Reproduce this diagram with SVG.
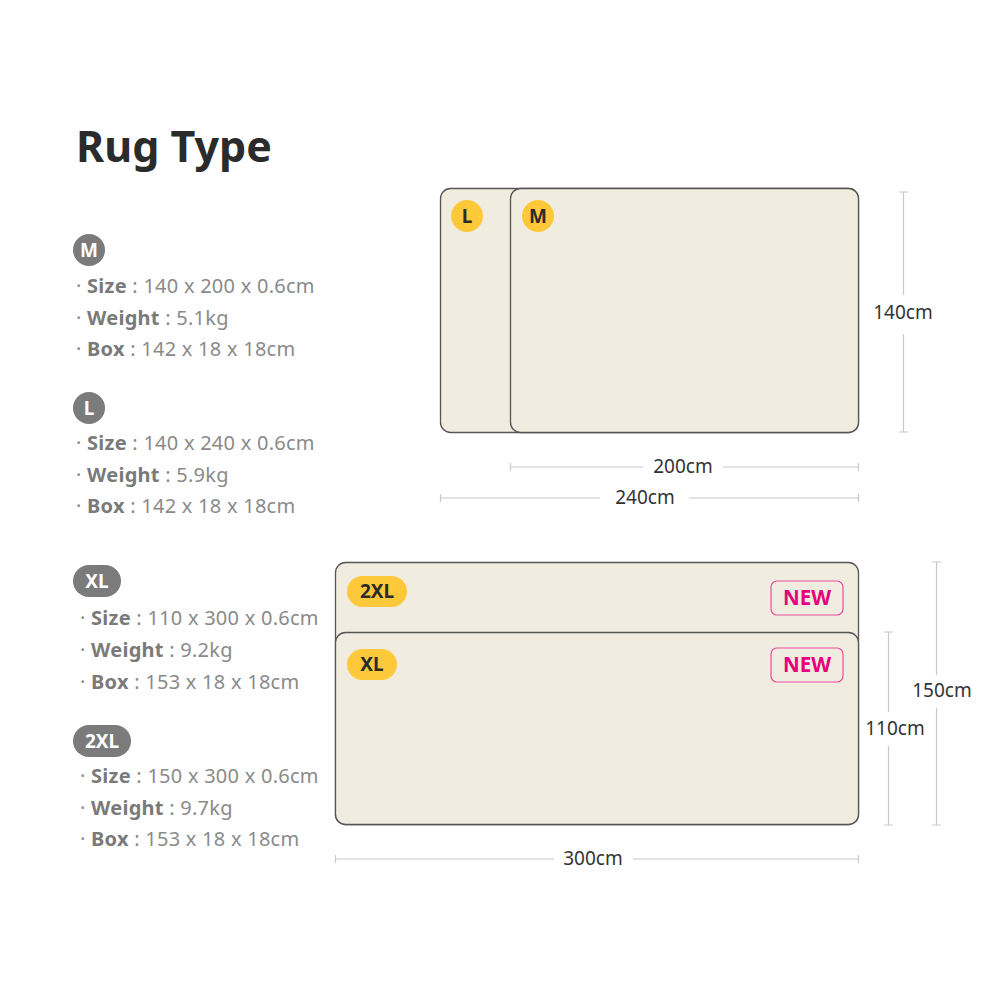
<svg xmlns="http://www.w3.org/2000/svg" width="1000" height="1000" viewBox="0 0 1000 1000">
<style>
text{font-family:"Noto Sans","Noto Sans CJK KR",sans-serif}
.title{font-size:43px;font-weight:700;fill:#2b2b2b}
.spec{font-size:20px;fill:#8a8a8a;letter-spacing:0.25px}
.spec .b{font-weight:700;fill:#7a7a7a}
.badge{fill:#7b7b7b}
.badgeT{font-size:19px;font-weight:700;fill:#fff;text-anchor:middle}
.rug{fill:#f0ece0;stroke:#555;stroke-width:1.3}
.yb{fill:#fdc93b}
.ybT{font-size:19px;font-weight:700;fill:#2b2b2b;text-anchor:middle}
.newBox{fill:none;stroke:#ec4da0;stroke-width:1.2}
.newT{font-size:20.5px;font-weight:700;fill:#e6007e;text-anchor:middle}
.dim{stroke:#c8c8c8;stroke-width:1.2;fill:none}
.dimT{font-size:19px;fill:#333;text-anchor:middle}
</style>
<rect width="1000" height="1000" fill="#fff"/>
<g id="title"><text class="title" x="76" y="162">Rug Type</text></g>

<g id="spec-M">
<circle class="badge" cx="89" cy="250" r="16"/>
<text class="badgeT" x="89" y="257">M</text>
<text class="spec" x="76" y="293">· <tspan class="b">Size</tspan> : 140 x 200 x 0.6cm</text>
<text class="spec" x="76" y="325">· <tspan class="b">Weight</tspan> : 5.1kg</text>
<text class="spec" x="76" y="356">· <tspan class="b">Box</tspan> : 142 x 18 x 18cm</text>
</g>
<g id="spec-L">
<circle class="badge" cx="89" cy="408" r="16"/>
<text class="badgeT" x="89" y="415">L</text>
<text class="spec" x="76" y="450">· <tspan class="b">Size</tspan> : 140 x 240 x 0.6cm</text>
<text class="spec" x="76" y="482">· <tspan class="b">Weight</tspan> : 5.9kg</text>
<text class="spec" x="76" y="513">· <tspan class="b">Box</tspan> : 142 x 18 x 18cm</text>
</g>
<g id="spec-XL">
<rect class="badge" x="73" y="565" width="48" height="32" rx="16"/>
<text class="badgeT" x="97" y="588">XL</text>
<text class="spec" x="80" y="625">· <tspan class="b">Size</tspan> : 110 x 300 x 0.6cm</text>
<text class="spec" x="80" y="657">· <tspan class="b">Weight</tspan> : 9.2kg</text>
<text class="spec" x="80" y="689">· <tspan class="b">Box</tspan> : 153 x 18 x 18cm</text>
</g>
<g id="spec-2XL">
<rect class="badge" x="73" y="725" width="58" height="32" rx="16"/>
<text class="badgeT" x="102" y="748">2XL</text>
<text class="spec" x="80" y="783">· <tspan class="b">Size</tspan> : 150 x 300 x 0.6cm</text>
<text class="spec" x="80" y="815">· <tspan class="b">Weight</tspan> : 9.7kg</text>
<text class="spec" x="80" y="846">· <tspan class="b">Box</tspan> : 153 x 18 x 18cm</text>
</g>

<g id="rug-L">
<rect class="rug" x="440.5" y="188.5" width="418" height="244" rx="10"/>
<circle class="yb" cx="467" cy="216" r="16"/>
<text class="ybT" x="467" y="223">L</text>
</g>
<g id="rug-M">
<rect class="rug" x="510.5" y="188.5" width="348" height="244" rx="10"/>
<circle class="yb" cx="538" cy="216" r="16"/>
<text class="ybT" x="538" y="223">M</text>
</g>
<g id="rug-2XL">
<rect class="rug" x="335.5" y="562.5" width="523" height="262" rx="10"/>
<rect class="yb" x="347" y="576" width="60" height="31" rx="15.5"/>
<text class="ybT" x="377" y="598">2XL</text>
<rect class="newBox" x="771" y="581" width="72" height="34" rx="6"/>
<text class="newT" x="807" y="605">NEW</text>
</g>
<g id="rug-XL">
<rect class="rug" x="335.5" y="632.5" width="523" height="192" rx="10"/>
<rect class="yb" x="347" y="649" width="50" height="31" rx="15.5"/>
<text class="ybT" x="372" y="671">XL</text>
<rect class="newBox" x="771" y="648" width="72" height="34" rx="6"/>
<text class="newT" x="807" y="672">NEW</text>
</g>

<g id="dimensions">
<path class="dim" d="M510.5 467H643M723 467H858.5M510.5 463v8M858.5 463v8"/>
<text class="dimT" x="683" y="473">200cm</text>
<path class="dim" d="M440.5 498H600M689 498H858.5M440.5 494v8M858.5 494v8"/>
<text class="dimT" x="645" y="504">240cm</text>
<path class="dim" d="M903.5 192V295M903.5 334V432M899 192h9M899 432h9"/>
<text class="dimT" x="903" y="319">140cm</text>
<path class="dim" d="M335.5 859H554M633 859H858.5M335.5 855v8M858.5 855v8"/>
<text class="dimT" x="593" y="865">300cm</text>
<path class="dim" d="M888.5 632V712M888.5 746V825M884 632h9M884 825h9"/>
<text class="dimT" x="895" y="735">110cm</text>
<path class="dim" d="M936.5 562V675M936.5 708V825M932 562h9M932 825h9"/>
<text class="dimT" x="942" y="697">150cm</text>
</g>
</svg>
